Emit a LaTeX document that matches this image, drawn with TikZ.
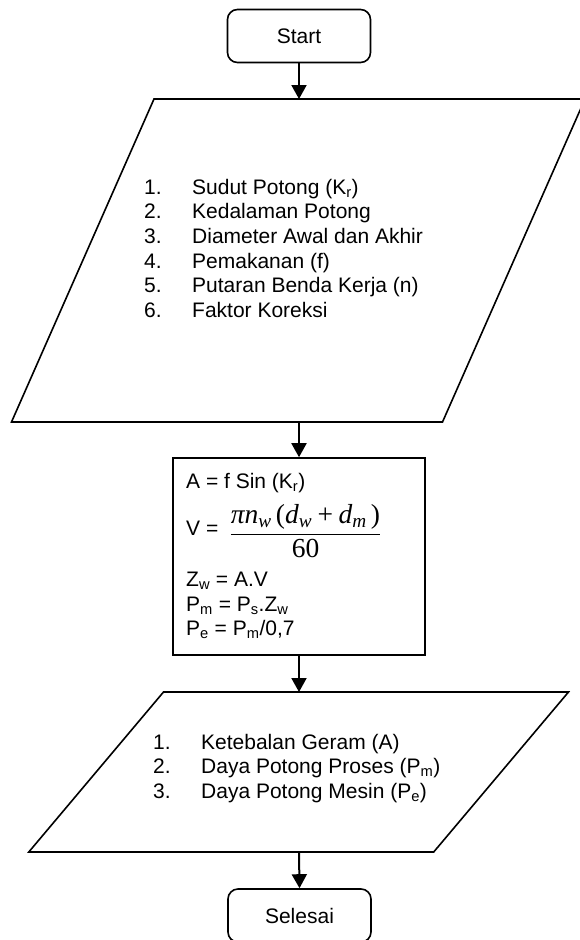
\documentclass[tikz,border=0pt]{standalone}
\usepackage{fontspec}
\usepackage{amsmath}
\setmainfont{Liberation Sans}
\newfontfamily\tnr{Liberation Serif}
\usetikzlibrary{arrows.meta,calc}
\newcommand\mI[1]{\text{\tnr\itshape #1}}
\newcommand\mR[1]{\text{\tnr\upshape #1}}
\tikzset{
  term/.style={draw, line width=1.6pt, rounded corners=10pt, minimum width=143pt,
    minimum height=53pt, inner sep=0pt, font=\fontsize{21}{24.6}\selectfont},
  procbox/.style={draw, line width=1.6pt, minimum width=252pt, minimum height=197pt, inner sep=0pt},
  shapeline/.style={line width=1.6pt, line join=miter},
  flow/.style={line width=2pt, -{Triangle[width=15pt,length=14pt]}},
  txt/.style={inner sep=0pt, font=\fontsize{21}{24.6}\selectfont},
  fractxt/.style={inner sep=0pt, font=\fontsize{27.5}{32}\selectfont}
}
\begin{document}
\begin{tikzpicture}[x=1pt,y=-1pt]
\useasboundingbox (0,0) rectangle (579,940);

% Start
\node[term] (start) at (299,36) {Start};

% Input parallelogram
\coordinate (p1a) at (154,99);
\coordinate (p1b) at (585,99);
\coordinate (p1c) at (442.5,422);
\coordinate (p1d) at (11.5,422);
\coordinate (p1top) at (299,99);
\coordinate (p1bot) at (299,422);
\draw[shapeline] (p1a) -- (p1b) -- (p1c) -- (p1d) -- cycle;
\node[txt, anchor=north west] (inlist) at (144,176.8) {%
\begin{tabular}{@{}p{48pt}@{}l@{}}
1. & Sudut Potong (K\textsubscript{r})\\
2. & Kedalaman Potong\\
3. & Diameter Awal dan Akhir\\
4. & Pemakanan (f)\\
5. & Putaran Benda Kerja (n)\\
6. & Faktor Koreksi
\end{tabular}};

% Process box
\node[procbox] (calc) at (299,556.5) {};
\node[txt, anchor=base west] (ra) at (186,488.3) {A = f Sin (K\textsubscript{r})};
\node[txt, anchor=base west] (rv) at (186,535.5) {V =};
\node[fractxt] (rfrac) at (305.5,531) {$\displaystyle\frac{\mI{πn}_{\mI{w}}\,\mR{(}\mI{d}_{\mI{w}}\mathbin{\mR{+}}\mI{d}_{\mI{m}}\,\mR{)}}{\mR{60}}$};
\node[txt, anchor=base west] (rz) at (186,586) {Z\textsubscript{w} = A.V};
\node[txt, anchor=base west] (rpm) at (186,611) {P\textsubscript{m} = P\textsubscript{s}.Z\textsubscript{w}};
\node[txt, anchor=base west] (rpe) at (186,635) {P\textsubscript{e} = P\textsubscript{m}/0,7};

% Output parallelogram
\coordinate (p2a) at (163.5,692);
\coordinate (p2b) at (568.5,692);
\coordinate (p2c) at (433.7,852);
\coordinate (p2d) at (28.8,852);
\coordinate (p2top) at (299,692);
\coordinate (p2bot) at (299,852);
\draw[shapeline] (p2a) -- (p2b) -- (p2c) -- (p2d) -- cycle;
\node[txt, anchor=north west] (outlist) at (153,731.8) {%
\begin{tabular}{@{}p{48pt}@{}l@{}}
1. & Ketebalan Geram (A)\\
2. & Daya Potong Proses (P\textsubscript{m})\\
3. & Daya Potong Mesin (P\textsubscript{e})
\end{tabular}};

% End
\node[term] (finish) at (299.5,915.5) {Selesai};

% Connectors
\draw[flow] (start.south) -- (p1top);
\draw[flow] (p1bot) -- (calc.north);
\draw[flow] (calc.south) -- (p2top);
\draw[flow] (p2bot) -- (finish.north);
\end{tikzpicture}
\end{document}
